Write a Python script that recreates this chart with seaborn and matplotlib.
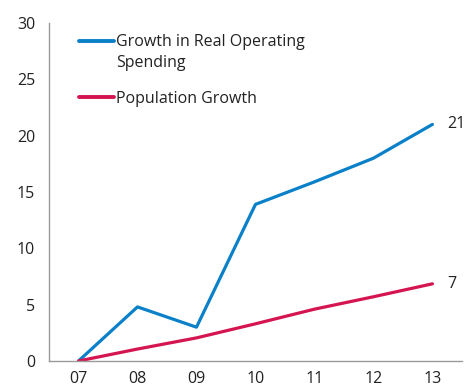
import matplotlib
matplotlib.use("Agg")
import matplotlib.pyplot as plt
import seaborn as sns
import pandas as pd

years = ["07", "08", "09", "10", "11", "12", "13"]
spending_growth = [0.0, 4.8, 3.0, 13.9, 15.9, 18.0, 21.0]
population_growth = [0.0, 1.06, 2.05, 3.3, 4.6, 5.7, 6.85]
series_names = ["Growth in Real Operating\nSpending", "Population Growth"]
series_colors = ["#0a80c9", "#d4154f"]
y_ticks = [0, 5, 10, 15, 20, 25, 30]

sns.set_theme(style="white")
plt.rcParams["font.family"] = ["Open Sans", "DejaVu Sans"]
text_color = "#222222"
font_size = 11.5

df = pd.DataFrame({
    "year": years * 2,
    "value": spending_growth + population_growth,
    "series": [series_names[0]] * len(years) + [series_names[1]] * len(years),
})

fig = plt.figure(figsize=(4.68, 3.9), dpi=100)
ax = fig.add_axes([0.1047, 0.0744, 0.8823, 0.8666])

sns.lineplot(data=df, x="year", y="value", hue="series", hue_order=series_names,
             palette=series_colors, linewidth=2.3, sort=False, ax=ax)

ax.set_xlim(-0.5, len(years) - 0.5)
ax.set_ylim(0, 30)
ax.set_yticks(y_ticks)
ax.set_xlabel("")
ax.set_ylabel("")
ax.tick_params(axis="both", length=0, labelsize=font_size, labelcolor=text_color)
ax.tick_params(axis="y", pad=10)
ax.tick_params(axis="x", pad=7.5)

for side in ["top", "right"]:
    ax.spines[side].set_visible(False)
for side in ["left", "bottom"]:
    ax.spines[side].set_color("#9a9a9a")
    ax.spines[side].set_linewidth(1.0)

# end-of-line value labels
for vals in [spending_growth, population_growth]:
    ax.annotate(f"{vals[-1]:.0f}", xy=(len(years) - 1, vals[-1]),
                xytext=(11, 0), textcoords="offset points",
                ha="left", va="center", fontsize=font_size, color=text_color)

leg = ax.legend(loc="upper left", bbox_to_anchor=(0.058, 0.985), frameon=False,
                fontsize=font_size, handlelength=2.2, handletextpad=0.1,
                labelspacing=1.25, handleheight=1.1, borderaxespad=0)
for t in leg.get_texts():
    t.set_color(text_color)
    t.set_linespacing(1.35)
for line in leg.get_lines():
    line.set_linewidth(2.8)
# align each legend swatch with the first line of its label
for col in leg._legend_handle_box.get_children():
    for item in col.get_children():
        item.align = "top"

fig.savefig("out.png", dpi=100)
